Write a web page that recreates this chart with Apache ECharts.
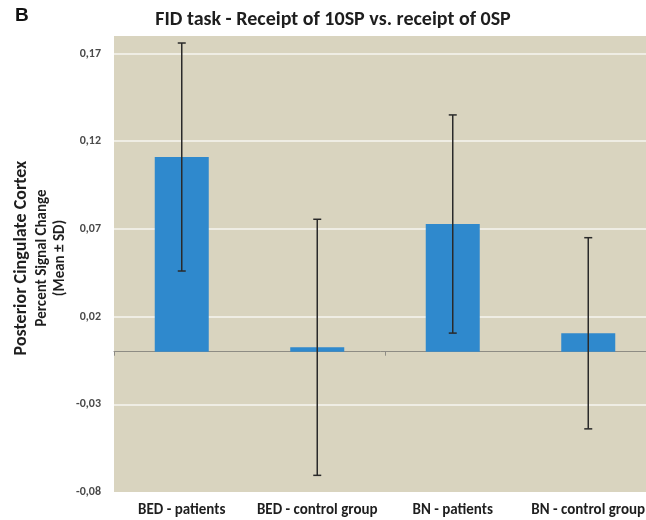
<!DOCTYPE html>
<html>
<head>
<meta charset="utf-8">
<script src="https://cdn.jsdelivr.net/npm/echarts@6/dist/echarts.min.js"></script>
<style>
  html, body { margin: 0; padding: 0; background: #ffffff; }
  #chart { width: 646px; height: 520px; }
</style>
</head>
<body>
<div id="chart"></div>
<script>
// Groups compared in the FID task contrast
const categories = ['BED - patients', 'BED - control group', 'BN - patients', 'BN - control group'];
// Mean percent signal change per group
const means = [0.111, 0.0025, 0.0728, 0.0105];
// Standard deviation per group
const sds = [0.065, 0.073, 0.0622, 0.0545];
// Value axis ticks
const yMin = -0.08;
const yMax = 0.18;
const yStep = 0.05;

const FONT = "Carlito, 'Open Sans', 'Noto Sans', sans-serif";

const chart = echarts.init(document.getElementById('chart'));

const errorData = categories.map((c, i) => [i, means[i] - sds[i], means[i] + sds[i]]);

chart.setOption({
  animation: false,
  backgroundColor: '#ffffff',
  grid: {
    left: 114, width: 542, top: 36, height: 456,
    outerBoundsMode: 'none',
    containLabel: false,
    show: true, backgroundColor: '#d9d4bf', borderWidth: 0
  },
  xAxis: [
    {
      type: 'category',
      data: categories,
      position: 'bottom',
      axisLine: { onZero: true, lineStyle: { color: '#8e8c84', width: 1 } },
      axisTick: { show: true, length: 4, lineStyle: { color: '#8e8c84' } },
      axisLabel: { show: false },
      splitLine: { show: false }
    },
    {
      type: 'category',
      data: categories,
      position: 'bottom',
      axisLine: { show: false, onZero: false },
      axisTick: { show: false },
      axisLabel: {
        show: true, margin: 11, interval: 0,
        fontFamily: FONT, fontWeight: 'bold', fontSize: 15, color: '#1e1e1e'
      },
      splitLine: { show: false }
    }
  ],
  yAxis: {
    type: 'value',
    min: yMin, max: yMax, interval: yStep,
    axisLine: { show: false },
    axisTick: { show: false },
    axisLabel: {
      margin: 13,
      showMaxLabel: false,
      fontFamily: FONT, fontWeight: 'bold', fontSize: 12, color: '#4a4a4a',
      formatter: v => v.toFixed(2).replace('.', ',')
    },
    splitLine: {
      show: true, showMinLine: false, showMaxLine: false,
      lineStyle: { color: '#efede4', width: 2 }
    }
  },
  series: [
    {
      type: 'bar',
      xAxisIndex: 0,
      data: means,
      barWidth: 54,
      itemStyle: { color: '#2f89cd' },
      z: 2
    },
    {
      type: 'custom',
      xAxisIndex: 0,
      data: errorData,
      z: 5,
      renderItem: function (params, api) {
        const x = api.value(0);
        const lo = api.coord([x, api.value(1)]);
        const hi = api.coord([x, api.value(2)]);
        const cap = 4;
        const style = { stroke: '#2a2a2a', lineWidth: 1.5 };
        return {
          type: 'group',
          children: [
            { type: 'line', shape: { x1: lo[0], y1: lo[1], x2: hi[0], y2: hi[1] }, style: style },
            { type: 'line', shape: { x1: lo[0] - cap, y1: lo[1], x2: lo[0] + cap, y2: lo[1] }, style: style },
            { type: 'line', shape: { x1: hi[0] - cap, y1: hi[1], x2: hi[0] + cap, y2: hi[1] }, style: style }
          ]
        };
      }
    }
  ],
  graphic: [
    {
      type: 'text', left: 15, top: 6,
      style: { text: 'B', font: "bold 19px 'Liberation Sans', Arial, sans-serif", fill: '#111' }
    },
    {
      type: 'text', x: 333, y: 20,
      style: {
        text: 'FID task - Receipt of 10SP vs. receipt of 0SP',
        font: "bold 20px " + FONT, fill: '#1e1e1e',
        textAlign: 'center', textVerticalAlign: 'middle'
      }
    },
    {
      type: 'text', x: 21, y: 258, rotation: Math.PI / 2,
      style: {
        text: 'Posterior Cingulate Cortex',
        font: "bold 18px " + FONT, fill: '#1e1e1e',
        textAlign: 'center', textVerticalAlign: 'middle'
      }
    },
    {
      type: 'text', x: 42, y: 258, rotation: Math.PI / 2,
      style: {
        text: 'Percent Signal Change',
        font: "bold 15px " + FONT, fill: '#1e1e1e',
        textAlign: 'center', textVerticalAlign: 'middle'
      }
    },
    {
      type: 'text', x: 60, y: 258, rotation: Math.PI / 2,
      style: {
        text: '(Mean \u00b1 SD)',
        font: "bold 15px " + FONT, fill: '#1e1e1e',
        textAlign: 'center', textVerticalAlign: 'middle'
      }
    }
  ]
});
</script>
</body>
</html>
